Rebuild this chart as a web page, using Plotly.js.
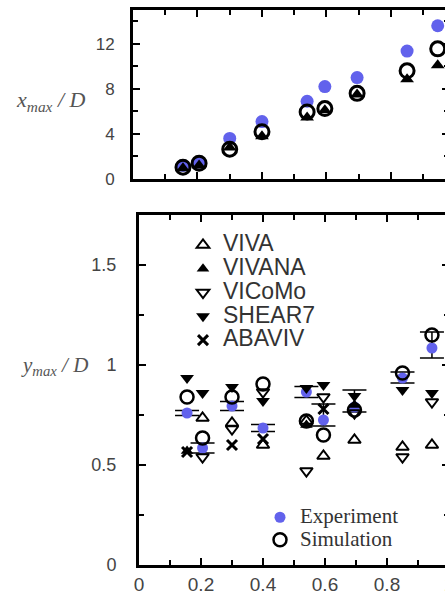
<!DOCTYPE html>
<html>
<head>
<meta charset="utf-8">
<script src="https://cdn.plot.ly/plotly-3.0.1.min.js"></script>
<style>
  html, body { margin: 0; padding: 0; overflow: hidden; background: #fff; }
  #chart { width: 460px; height: 598px; }
</style>
</head>
<body>
<div id="chart"></div>
<script>
// Reduced velocity cases (shared abscissa for both panels)
const caseX = [0.155, 0.205, 0.30, 0.40, 0.54, 0.595, 0.695, 0.85, 0.945];

// Upper panel: in-line maximum displacement x_max / D
const xmaxExperiment = [1.2, 1.5, 3.6, 5.1, 6.9, 8.2, 9.0, 11.35, 13.6];
const xmaxSimulation = [1.05, 1.4, 2.65, 4.2, 5.95, 6.25, 7.6, 9.6, 11.55];
const xmaxVIVANA     = [0.95, 1.2, 2.8, 3.8, 5.45, 6.1, 7.5, 8.85, 10.1];

// Lower panel: cross-flow maximum displacement y_max / D
const ymaxExperiment = [0.76, 0.585, 0.795, 0.685, 0.865, 0.725, 0.79, 0.935, 1.085];
const ymaxErrPlus    = [0.013, 0.025, 0.022, 0.018, 0.028, 0.08, 0.085, 0.03, 0.08];
const ymaxErrMinus   = [0.013, 0.025, 0.022, 0.018, 0.028, 0.03, 0.025, 0.025, 0.05];
const ymaxSimulation = [0.84, 0.635, 0.84, 0.905, 0.72, 0.65, 0.775, 0.96, 1.15];
const ymaxVIVA       = [null, 0.735, 0.71, 0.60, 0.72, 0.545, 0.625, 0.59, 0.60];
const ymaxVIVANA     = [0.57, null, null, null, 0.70, null, 0.80, null, null];
const ymaxVICoMo     = [null, 0.54, 0.68, 0.865, 0.47, 0.84, 0.76, 0.54, 0.815];
const ymaxSHEAR7     = [0.935, 0.86, 0.89, 0.82, 0.885, 0.90, 0.845, 0.875, 0.86];
const ymaxABAVIV     = [0.565, null, 0.60, 0.63, null, 0.78, null, null, null];

const programNames = ['VIVA', 'VIVANA', 'VICoMo', 'SHEAR7', 'ABAVIV'];
const xTickVals = [0, 0.2, 0.4, 0.6, 0.8, 1];
const yTopTicks = [0, 4, 8, 12];
const yBotTicks = [0, 0.5, 1, 1.5];

const BLUE = 'rgb(98,98,236)';
const SANS = 'Liberation Sans, Arial, sans-serif';
const SERIF = 'Liberation Serif, Times New Roman, serif';

// legend rows keep a compact line pitch while the labels are set larger
const big = (t) => '<span style="font-size:23px">' + t + '</span>';
const bigSerif = (t) => '<span style="font-size:21px">' + t + '</span>';

const expMarker = { symbol: 'circle', size: 11, color: BLUE, line: { width: 0 } };
const simMarker = { symbol: 'circle-open', size: 13, color: '#000', line: { width: 2.5, color: '#000' } };
const expMarkerTop = { symbol: 'circle', size: 13, color: BLUE, line: { width: 0 } };
const simMarkerTop = { symbol: 'circle-open', size: 14, color: '#000', line: { width: 3, color: '#000' } };

const programStyles = {
  VIVA:   { symbol: 'triangle-up-open',   size: 11, color: '#000', line: { width: 2, color: '#000' } },
  VIVANA: { symbol: 'triangle-up',        size: 11, color: '#000', line: { width: 0 } },
  VICoMo: { symbol: 'triangle-down-open', size: 11, color: '#000', line: { width: 2, color: '#000' } },
  SHEAR7: { symbol: 'triangle-down',      size: 12, color: '#000', line: { width: 0 } },
  ABAVIV: { symbol: 'x-thin-open',        size: 10, color: '#000', line: { width: 3, color: '#000' } }
};
const programData = {
  VIVA: ymaxVIVA, VIVANA: ymaxVIVANA, VICoMo: ymaxVICoMo, SHEAR7: ymaxSHEAR7, ABAVIV: ymaxABAVIV
};

const traces = [];

// ---- upper panel ----
traces.push({ x: caseX, y: xmaxExperiment, xaxis: 'x', yaxis: 'y', mode: 'markers',
  marker: expMarkerTop, showlegend: false, hoverinfo: 'skip' });
traces.push({ x: caseX, y: xmaxVIVANA, xaxis: 'x', yaxis: 'y', mode: 'markers',
  marker: Object.assign({}, programStyles.VIVANA, { size: 12 }), showlegend: false, hoverinfo: 'skip' });
traces.push({ x: caseX, y: xmaxSimulation, xaxis: 'x', yaxis: 'y', mode: 'markers',
  marker: simMarkerTop, showlegend: false, hoverinfo: 'skip' });

// ---- lower panel ----
traces.push({ x: caseX, y: ymaxExperiment, xaxis: 'x2', yaxis: 'y2', mode: 'markers',
  name: bigSerif('Experiment'), legend: 'legend2', marker: expMarker,
  error_y: { type: 'data', symmetric: false, array: ymaxErrPlus, arrayminus: ymaxErrMinus,
             color: '#000', thickness: 1.5, width: 12 } });
programNames.forEach(function (p) {
  traces.push({ x: caseX, y: programData[p], xaxis: 'x2', yaxis: 'y2', mode: 'markers',
    name: big(p), legend: 'legend', marker: programStyles[p] });
});
traces.push({ x: caseX, y: ymaxSimulation, xaxis: 'x2', yaxis: 'y2', mode: 'markers',
  name: bigSerif('Simulation'), legend: 'legend2', marker: simMarker });

// Frame geometry (pixels in a 449-wide plot area, 598 high)
const W = 449, H = 598;
const axisCommon = {
  showline: true, linewidth: 3, linecolor: '#000', mirror: 'ticks',
  ticks: 'inside', ticklen: 7, tickwidth: 2, tickcolor: '#000',
  showgrid: false, zeroline: false, fixedrange: true,
  tickfont: { family: SANS, size: 18, color: '#444' },
  minor: { ticks: 'inside', ticklen: 5, tickwidth: 2, tickcolor: '#000', showgrid: false }
};

const layout = {
  width: 460, height: 598,
  margin: { l: 0, r: 11, t: 0, b: 0 },
  paper_bgcolor: '#fff', plot_bgcolor: '#fff',
  showlegend: true,
  xaxis: Object.assign({}, axisCommon, {
    domain: [133 / W, 1], range: [0, 0.98], anchor: 'y',
    tickvals: xTickVals, showticklabels: false,
    minor: Object.assign({}, axisCommon.minor, { dtick: 0.1, tick0: 0 })
  }),
  yaxis: Object.assign({}, axisCommon, {
    domain: [1 - 179 / H, 1 - 10 / H], range: [0, 15], anchor: 'x',
    tickvals: yTopTicks, ticklabelstandoff: 12,
    tickfont: { family: SANS, size: 17, color: '#444' },
    minor: Object.assign({}, axisCommon.minor, { dtick: 2, tick0: 0 })
  }),
  xaxis2: Object.assign({}, axisCommon, {
    domain: [139 / W, 1], range: [0, 1.0], anchor: 'y2',
    tickvals: xTickVals, ticklabelstandoff: 0,
    tickfont: { family: SANS, size: 19, color: '#444' },
    minor: Object.assign({}, axisCommon.minor, { dtick: 0.1, tick0: 0 })
  }),
  yaxis2: Object.assign({}, axisCommon, {
    domain: [1 - 565 / H, 1 - 215 / H], range: [0, 1.75], anchor: 'x2',
    tickvals: yBotTicks, ticklabelstandoff: 16,
    minor: Object.assign({}, axisCommon.minor, { dtick: 0.25, tick0: 0 })
  }),
  legend: {
    x: 183 / W, y: 1 - 228 / H, xanchor: 'left', yanchor: 'top',
    bgcolor: 'rgba(0,0,0,0)', borderwidth: 0,
    font: { family: SANS, size: 16, color: '#333' }, tracegroupgap: 0
  },
  legend2: {
    x: 260 / W, y: 1 - 501 / H, xanchor: 'left', yanchor: 'top',
    bgcolor: 'rgba(0,0,0,0)', borderwidth: 0,
    font: { family: SERIF, size: 15, color: '#333' }, tracegroupgap: 0
  },
  annotations: [
    { xref: 'paper', yref: 'paper', x: 51 / W, y: 1 - 101 / H, xanchor: 'center', yanchor: 'middle',
      showarrow: false, text: '<i>x</i><sub><i>max</i></sub><i> / D</i>',
      font: { family: SERIF, size: 22, color: '#555' } },
    { xref: 'paper', yref: 'paper', x: 54 / W, y: 1 - 366 / H, xanchor: 'center', yanchor: 'middle',
      showarrow: false, text: '<i>y</i><sub><i>max</i></sub><i> / D</i>',
      font: { family: SERIF, size: 21, color: '#555' } }
  ]
};

Plotly.newPlot('chart', traces, layout, { displayModeBar: false, staticPlot: true });
</script>
</body>
</html>
